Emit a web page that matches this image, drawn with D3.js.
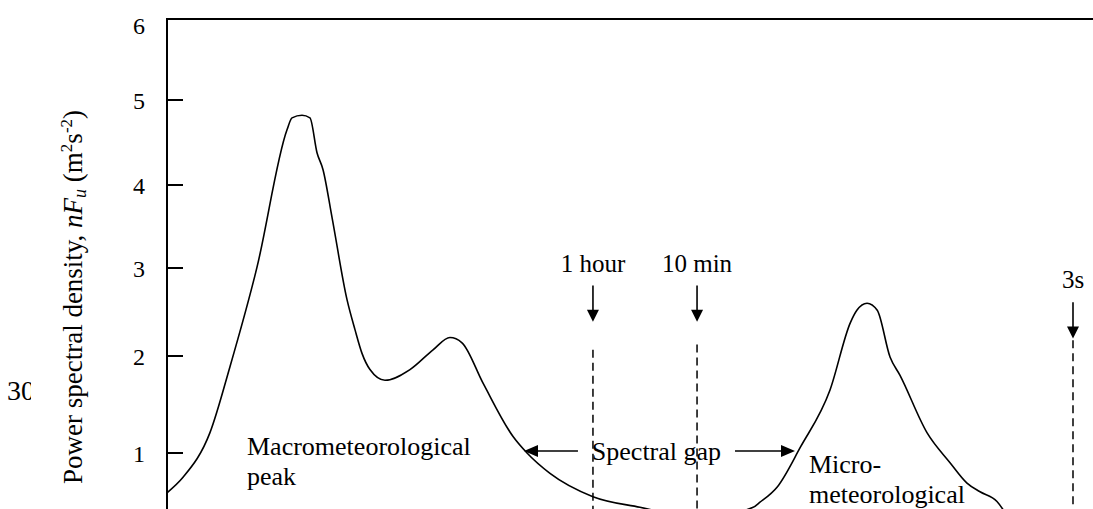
<!DOCTYPE html>
<html>
<head>
<meta charset="utf-8">
<script src="https://cdn.jsdelivr.net/npm/d3@7"></script>
<style>
  body { margin: 0; background: #fff; }
  svg { display: block; }
  text { font-family: "Liberation Serif", "Times New Roman", serif; fill: #000; }
</style>
</head>
<body>
<svg id="chart" width="1093" height="509"></svg>
<script>
// Spectrum of horizontal wind speed: position along the (log) frequency axis, arbitrary units
const freqPos = [0, 1.73, 4.64, 6.80, 9.72, 12.96, 13.50, 14.58, 15.44, 16.20, 16.85, 17.82,
  19.44, 20.30, 21.06, 21.92, 23.54, 26.24, 28.73, 30.56, 31.86, 34.13, 37.37, 38.88, 41.36,
  46.0, 51.08, 57.6, 63.3, 64.0, 65.9, 68.4, 71.6, 73.8, 74.5, 75.6, 76.7, 78.08, 79.16,
  82.07, 84.56, 86.39, 87.80, 89.63, 91.0];
// Power spectral density nF_u (m^2 s^-2)
const density = [0.59, 0.75, 1.21, 1.89, 3.01, 4.65, 4.79, 4.82, 4.79, 4.38, 4.18, 3.61,
  2.64, 2.30, 2.03, 1.86, 1.75, 1.86, 2.07, 2.21, 2.15, 1.72, 1.17, 1.00, 0.79,
  0.55, 0.44, 0.33, 0.44, 0.49, 0.65, 1.06, 1.65, 2.38, 2.52, 2.60, 2.52, 1.99, 1.80,
  1.21, 0.90, 0.69, 0.60, 0.50, 0.31];
const yTicks = [1, 2, 3, 4, 5, 6];

// Time-scale markers
const markerLabels = ["1 hour", "10 min", "3s"];
const markerPos = [46.0, 57.24, 97.84];
const markerTop = [2.80, 2.80, 2.61];
const markerTip = [2.39, 2.39, 2.20];
const dashTop = [2.07, 2.13, 2.18];

// Spectral gap annotation
const gapLeft = [38.55, 44.38];
const gapRight = [61.34, 67.82];
const gapLevel = 1.02;

const svg = d3.select("#chart");
const W = 1093, H = 509;

const x = d3.scaleLinear().domain([0, 100]).range([167, 1093]);
// the drawn axis spacing is not uniform, so the scale is piecewise linear
const y = d3.scaleLinear().domain(yTicks).range([453, 356, 268, 185, 100, 19]);

// cropped "30" at the far left
svg.append("clipPath").attr("id", "leftclip")
  .append("rect").attr("x", 0).attr("y", 0).attr("width", 31).attr("height", H);
svg.append("text").attr("x", 7).attr("y", 400).attr("font-size", 28)
  .attr("clip-path", "url(#leftclip)").text("30");

// frame: left axis and top border
svg.append("line").attr("x1", x(0)).attr("x2", W + 5).attr("y1", y(6)).attr("y2", y(6))
  .attr("stroke", "#000").attr("stroke-width", 2);

const axis = d3.axisLeft(y).tickValues(yTicks).tickSize(0).tickPadding(22)
  .tickFormat(d3.format("d"));
const gAxis = svg.append("g").attr("transform", `translate(${x(0)},0)`).call(axis);
gAxis.select(".domain").remove();
gAxis.selectAll("text").attr("font-size", 24).attr("font-family", "Liberation Serif")
  .attr("dy", d => d === 6 ? "0.62em" : "0.34em");
svg.append("line").attr("x1", x(0)).attr("x2", x(0)).attr("y1", y(6) - 1).attr("y2", H)
  .attr("stroke", "#000").attr("stroke-width", 2);
svg.selectAll(".inner-tick").data(yTicks.filter(d => d < 6)).join("line")
  .attr("class", "inner-tick")
  .attr("x1", x(0)).attr("x2", x(0) + 16)
  .attr("y1", d => y(d)).attr("y2", d => y(d))
  .attr("stroke", "#000").attr("stroke-width", 2);

// y-axis title
const title = svg.append("text")
  .attr("transform", `translate(82,297) rotate(-90)`)
  .attr("text-anchor", "middle").attr("font-size", 27);
title.append("tspan").text("Power spectral density, ");
title.append("tspan").attr("font-style", "italic").text("nF");
title.append("tspan").attr("font-style", "italic").attr("font-size", 18).attr("baseline-shift", "-4").text("u");
title.append("tspan").text(" (m");
title.append("tspan").attr("font-size", 17).attr("baseline-shift", "10").text("2");
title.append("tspan").text("s");
title.append("tspan").attr("font-size", 17).attr("baseline-shift", "10").text("-2");
title.append("tspan").text(")");

// spectrum curve
const pts = freqPos.map((f, i) => [f, density[i]]);
const line = d3.line().x(d => x(d[0])).y(d => y(d[1])).curve(d3.curveMonotoneX);
svg.append("path").attr("d", line(pts)).attr("fill", "none")
  .attr("stroke", "#000").attr("stroke-width", 1.6);

// time-scale markers: label, down arrow, dashed line
markerLabels.forEach((lab, i) => {
  const mx = x(markerPos[i]);
  const top = y(markerTop[i]), tip = y(markerTip[i]);
  svg.append("text").attr("x", mx).attr("y", top - 14).attr("text-anchor", "middle")
    .attr("font-size", 25).text(lab);
  svg.append("line").attr("x1", mx).attr("x2", mx).attr("y1", top).attr("y2", tip - 10)
    .attr("stroke", "#000").attr("stroke-width", 1.6);
  svg.append("path").attr("d", `M${mx - 6},${tip - 12}L${mx + 6},${tip - 12}L${mx},${tip}Z`)
    .attr("fill", "#000");
  svg.append("line").attr("x1", mx).attr("x2", mx).attr("y1", y(dashTop[i])).attr("y2", H + 5)
    .attr("stroke", "#000").attr("stroke-width", 1.5).attr("stroke-dasharray", "8,5");
});

// spectral gap arrows
const gy = y(gapLevel);
svg.append("line").attr("x1", x(gapLeft[1])).attr("x2", x(gapLeft[0]) + 12).attr("y1", gy).attr("y2", gy)
  .attr("stroke", "#000").attr("stroke-width", 1.6);
svg.append("path").attr("d", `M${x(gapLeft[0])},${gy}L${x(gapLeft[0]) + 14},${gy - 6}L${x(gapLeft[0]) + 14},${gy + 6}Z`)
  .attr("fill", "#000");
svg.append("line").attr("x1", x(gapRight[0])).attr("x2", x(gapRight[1]) - 12).attr("y1", gy).attr("y2", gy)
  .attr("stroke", "#000").attr("stroke-width", 1.6);
svg.append("path").attr("d", `M${x(gapRight[1])},${gy}L${x(gapRight[1]) - 14},${gy - 6}L${x(gapRight[1]) - 14},${gy + 6}Z`)
  .attr("fill", "#000");
svg.append("text").attr("x", x((gapLeft[1] + gapRight[0]) / 2)).attr("y", y(0.93))
  .attr("text-anchor", "middle").attr("font-size", 26).text("Spectral gap");

// peak labels
const macro = svg.append("text").attr("font-size", 26);
macro.append("tspan").attr("x", x(8.64)).attr("y", y(0.98)).text("Macrometeorological");
macro.append("tspan").attr("x", x(8.64)).attr("y", y(0.98) + 30).text("peak");
const micro = svg.append("text").attr("font-size", 26);
micro.append("tspan").attr("x", x(69.33)).attr("y", y(0.794)).text("Micro-");
micro.append("tspan").attr("x", x(69.33)).attr("y", y(0.794) + 30).text("meteorological");
</script>
</body>
</html>
